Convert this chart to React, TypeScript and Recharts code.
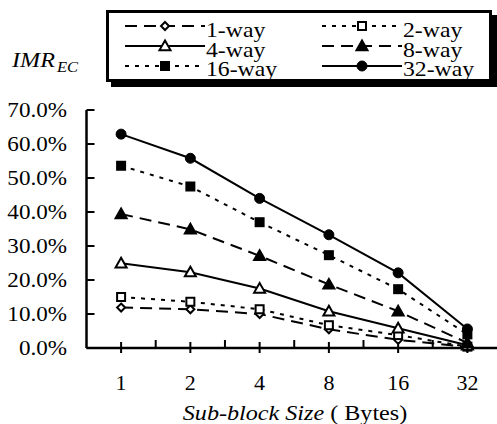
import React from 'react'
import { LineChart, Line, XAxis, YAxis, Legend } from 'recharts'

const sizes = ['1', '2', '4', '8', '16', '32']
const yTicks = [0, 10, 20, 30, 40, 50, 60, 70]

const way1 = [11.9, 11.4, 10.0, 5.5, 2.4, 0.3]
const way2 = [15.0, 13.6, 11.4, 6.7, 3.8, 0.4]
const way4 = [24.9, 22.3, 17.5, 10.8, 5.8, 0.8]
const way8 = [39.4, 34.9, 27.1, 18.7, 10.8, 1.5]
const way16 = [53.6, 47.5, 37.0, 27.3, 17.3, 4.0]
const way32 = [62.9, 55.8, 44.0, 33.3, 22.1, 5.6]

const FONT = '"Liberation Serif", "Times New Roman", serif'
const LONG = '12 7'
const SHORT = '4 6'
const HALF_BAND = 34.6

type Marker = 'diamond' | 'square' | 'triangle' | 'circle'

const series = [
  { key: 'w1', name: '1-way', values: way1, dash: LONG, marker: 'diamond' as Marker, filled: false },
  { key: 'w2', name: '2-way', values: way2, dash: SHORT, marker: 'square' as Marker, filled: false },
  { key: 'w4', name: '4-way', values: way4, dash: undefined, marker: 'triangle' as Marker, filled: false },
  { key: 'w8', name: '8-way', values: way8, dash: LONG, marker: 'triangle' as Marker, filled: true },
  { key: 'w16', name: '16-way', values: way16, dash: SHORT, marker: 'square' as Marker, filled: true },
  { key: 'w32', name: '32-way', values: way32, dash: undefined, marker: 'circle' as Marker, filled: true },
]

const data = sizes.map((s, i) => {
  const row: Record<string, string | number> = { size: s }
  series.forEach((sr) => {
    row[sr.key] = sr.values[i]
  })
  return row
})

// the source figure's text is a little wider than plain Times, so stretch it
function SText({ x, y, size, sx = 1, anchor = 'start', italic = false, children }: any) {
  return (
    <text
      transform={`translate(${x} ${y}) scale(${sx} 1)`}
      x={0}
      y={0}
      textAnchor={anchor}
      fontSize={size}
      fontStyle={italic ? 'italic' : 'normal'}
      style={{ fontFamily: FONT }}
      fill="#000"
    >
      {children}
    </text>
  )
}

function MarkerShape({ cx, cy, marker, filled }: { cx: number; cy: number; marker: Marker; filled: boolean }) {
  const fill = filled ? '#000' : '#fff'
  const sw = 2
  if (marker === 'diamond') {
    const r = 4
    return (
      <polygon
        points={`${cx},${cy - r} ${cx + r},${cy} ${cx},${cy + r} ${cx - r},${cy}`}
        fill={fill}
        stroke="#000"
        strokeWidth={sw}
      />
    )
  }
  if (marker === 'square') {
    const r = filled ? 5 : 4
    return <rect x={cx - r} y={cy - r} width={r * 2} height={r * 2} fill={fill} stroke="#000" strokeWidth={filled ? 0 : sw} />
  }
  if (marker === 'triangle') {
    const r = 5.5
    return (
      <polygon
        points={`${cx},${cy - r} ${cx + r},${cy + r * 0.75} ${cx - r},${cy + r * 0.75}`}
        fill={fill}
        stroke="#000"
        strokeWidth={sw}
      />
    )
  }
  return <circle cx={cx} cy={cy} r={5} fill={fill} stroke="#000" strokeWidth={1} />
}

function XTick(props: any) {
  const { x, y, payload, index } = props
  return (
    <g>
      <line x1={x} x2={x} y1={y - 6} y2={y + 5} stroke="#000" strokeWidth={2} />
      {index < sizes.length - 1 && (
        <line x1={x + HALF_BAND} x2={x + HALF_BAND} y1={y - 8} y2={y} stroke="#000" strokeWidth={2} />
      )}
      <SText x={x} y={y + 42} size={22} anchor="middle">
        {payload.value}
      </SText>
    </g>
  )
}

function YTick(props: any) {
  const { x, y, payload } = props
  return (
    <g>
      <line x1={x} x2={x + 8} y1={y} y2={y} stroke="#000" strokeWidth={2} />
      <SText x={x - 19.5} y={y + 7} size={21} sx={1.1} anchor="end">
        {Number(payload.value).toFixed(1)}%
      </SText>
    </g>
  )
}

function LegendBox() {
  const cols = [125, 322]
  const lineY = [26, 46, 66]
  const baseY = [36.5, 56.5, 76]
  return (
    <svg width={497} height={100} style={{ display: 'block' }}>
      <rect x={111} y={15} width={386} height={72} fill="#000" />
      <rect x={107.5} y={11.5} width={383} height={69} fill="#fff" stroke="#000" strokeWidth={3} />
      {series.map((s, i) => {
        const x0 = cols[i % 2]
        const r = Math.floor(i / 2)
        const x1 = x0 + 80
        return (
          <g key={s.key}>
            <line x1={x0} x2={x1} y1={lineY[r]} y2={lineY[r]} stroke="#000" strokeWidth={2} strokeDasharray={s.dash} />
            <MarkerShape cx={(x0 + x1) / 2} cy={lineY[r]} marker={s.marker} filled={s.filled} />
            <SText x={x1 + 1} y={baseY[r]} size={21} sx={1.13}>
              {s.name}
            </SText>
          </g>
        )
      })}
    </svg>
  )
}

export default function App() {
  return (
    <div
      style={{
        position: 'absolute',
        left: 0,
        top: 0,
        width: 497,
        height: 424,
        overflow: 'hidden',
        background: '#fff',
        fontFamily: FONT,
      }}
    >
      <LineChart
        width={510}
        height={424}
        data={data}
        margin={{ top: 110, right: 8, left: 0, bottom: 46 }}
      >
        <XAxis
          dataKey="size"
          type="category"
          height={30}
          padding={{ left: HALF_BAND, right: HALF_BAND }}
          axisLine={{ stroke: '#000', strokeWidth: 2.5 }}
          tickLine={false}
          tickSize={0}
          tickMargin={0}
          tick={<XTick />}
          interval={0}
          label={{
            position: 'insideBottom',
            content: () => (
              <text
                transform="translate(295 420) scale(1.15 1)"
                textAnchor="middle"
                fontSize={21}
                style={{ fontFamily: FONT }}
                fill="#000"
              >
                <tspan fontStyle="italic">Sub-block Size</tspan>
                <tspan> ( Bytes)</tspan>
              </text>
            ),
          }}
        />
        <YAxis
          type="number"
          domain={[0, 70]}
          ticks={yTicks}
          width={86.5}
          axisLine={{ stroke: '#000', strokeWidth: 2.5 }}
          tickLine={false}
          tickSize={0}
          tickMargin={0}
          tick={<YTick />}
          interval={0}
          label={{
            position: 'insideTopLeft',
            content: () => (
              <g>
                <SText x={12} y={67} size={21} sx={1.15} italic>
                  IMR
                </SText>
                <SText x={57} y={72} size={15} sx={1.1} italic>
                  EC
                </SText>
              </g>
            ),
          }}
        />
        <Legend
          layout="vertical"
          verticalAlign="middle"
          align="center"
          wrapperStyle={{ position: 'absolute', left: 0, top: 0, width: 497, height: 100 }}
          content={() => <LegendBox />}
        />
        {series.map((s) => (
          <Line
            key={s.key}
            dataKey={s.key}
            name={s.name}
            type="linear"
            stroke="#000"
            strokeWidth={2}
            strokeDasharray={s.dash}
            isAnimationActive={false}
            dot={(p: any) => <MarkerShape key={`${s.key}-${p.index}`} cx={p.cx} cy={p.cy} marker={s.marker} filled={s.filled} />}
            activeDot={false}
          />
        ))}
      </LineChart>
    </div>
  )
}
